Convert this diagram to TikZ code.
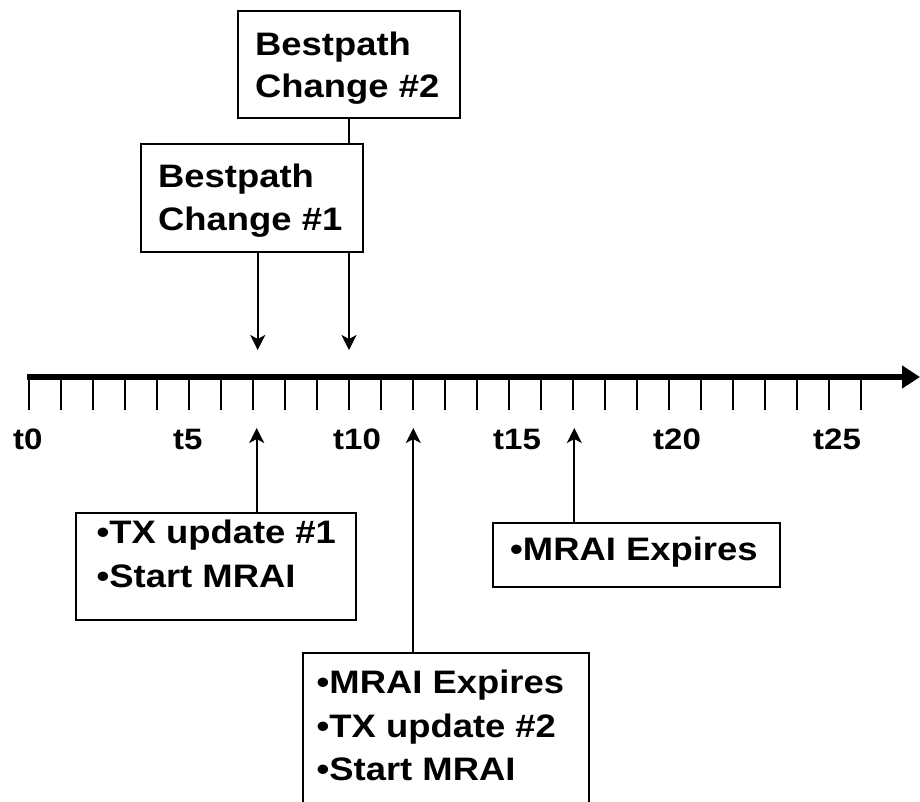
\documentclass[tikz,border=0pt]{standalone}
\usepackage{fontspec}
\setmainfont[FakeStretch=1.12]{Liberation Sans}
\usetikzlibrary{arrows.meta}
\begin{document}
\begin{tikzpicture}[x=1pt,y=-1pt,
  box/.style={draw, line width=2pt, inner sep=0pt, anchor=north west, fill=white},
  txt/.style={anchor=base west, inner sep=0pt, font=\bfseries\fontsize{32.5}{39}\selectfont},
  tlbl/.style={anchor=base west, inner sep=0pt, font=\bfseries\fontsize{29.5}{35}\selectfont},
  conn/.style={line width=2pt},
  arr/.style={conn, -{Stealth[length=15pt,width=15pt,inset=4pt]}},
  tick/.style={line width=2pt}]
\useasboundingbox (0,0) rectangle (920,801);
\clip (0,0) rectangle (920,801);

% time axis with ticks t0 .. t26
\draw[line width=6.5pt, -{Triangle[length=18pt,width=22pt]}] (27,377) -- (920,377);
\foreach \i in {0,...,26}
  \draw[tick] ({28.5+32*\i},377) -- ({28.5+32*\i},410);
\foreach \k [evaluate=\k as \v using int(5*\k)] in {0,...,5}
  \node[tlbl] (lbl\v) at ({13+160*\k},449) {t\v};

% event boxes above the axis
\node[box, minimum width=222pt, minimum height=107pt] (bp2) at (237,10) {};
\node[txt] (bp2a) at (255,55) {Bestpath};
\node[txt] (bp2b) at (255,97) {Change \#2};

\node[box, minimum width=222pt, minimum height=108pt] (bp1) at (140,143) {};
\node[txt] (bp1a) at (158,187) {Bestpath};
\node[txt] (bp1b) at (158,230) {Change \#1};

% action boxes below the axis
\node[box, minimum width=280pt, minimum height=107pt] (tx1) at (75,512) {};
\node[txt] (tx1a) at (96.5,543.5) {•TX update \#1};
\node[txt] (tx1b) at (96.5,587) {•Start MRAI};

\node[box, minimum width=287pt, minimum height=64pt] (mr1) at (491.5,522) {};
\node[txt] (mr1a) at (510,560) {•MRAI Expires};

\node[box, minimum width=286pt, minimum height=180pt] (mr2) at (301.5,652) {};
\node[txt] (mr2a) at (316.5,693.5) {•MRAI Expires};
\node[txt] (mr2b) at (316.5,737) {•TX update \#2};
\node[txt] (mr2c) at (316.5,780.5) {•Start MRAI};

% arrow tips on the axis
\coordinate (d1) at (257.7,350);
\coordinate (d2) at (349,350);
\coordinate (u1) at (256.7,428);
\coordinate (u2) at (413.3,428);
\coordinate (u3) at (574.3,428);

% connectors
\draw[conn] (bp2.south -| d2) -- (bp1.north -| d2);
\draw[arr] (bp1.south -| d2) -- (d2);
\draw[arr] (bp1.south -| d1) -- (d1);
\draw[arr] (tx1.north -| u1) -- (u1);
\draw[arr] (mr2.north -| u2) -- (u2);
\draw[arr] (mr1.north -| u3) -- (u3);
\end{tikzpicture}
\end{document}
